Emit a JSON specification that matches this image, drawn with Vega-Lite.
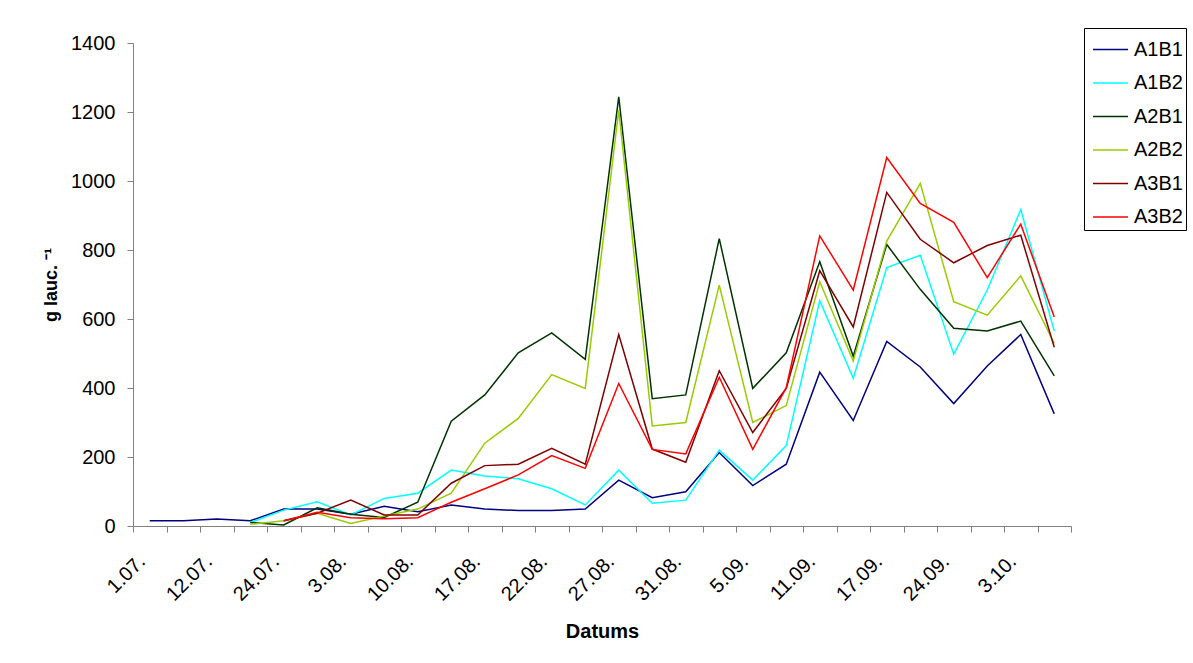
{
  "$schema": "https://vega.github.io/schema/vega-lite/v6.json",
  "width": 938,
  "height": 483,
  "autosize": {"type": "none"},
  "padding": {"left": 133, "top": 43, "right": 122, "bottom": 137},
  "background": "white",
  "config": {
    "view": {"stroke": null},
    "font": "Liberation Sans",
    "axis": {"labelFont": "Liberation Sans", "titleFont": "Liberation Sans", "labelColor": "black", "titleColor": "black", "grid": false},
    "legend": {"labelFont": "Liberation Sans"}
  },
  "data": {
    "values": [
      {"d": "1.07.", "s": "A1B1", "v": 15}, {"d": "6.07.", "s": "A1B1", "v": 15}, {"d": "12.07.", "s": "A1B1", "v": 20}, {"d": "18.07.", "s": "A1B1", "v": 15},
      {"d": "24.07.", "s": "A1B1", "v": 49}, {"d": "29.07.", "s": "A1B1", "v": 49}, {"d": "3.08.", "s": "A1B1", "v": 34}, {"d": "6.08.", "s": "A1B1", "v": 57},
      {"d": "10.08.", "s": "A1B1", "v": 41}, {"d": "14.08.", "s": "A1B1", "v": 61}, {"d": "17.08.", "s": "A1B1", "v": 49}, {"d": "20.08.", "s": "A1B1", "v": 45},
      {"d": "22.08.", "s": "A1B1", "v": 45}, {"d": "24.08.", "s": "A1B1", "v": 49}, {"d": "27.08.", "s": "A1B1", "v": 133}, {"d": "29.08.", "s": "A1B1", "v": 82},
      {"d": "31.08.", "s": "A1B1", "v": 99}, {"d": "3.09.", "s": "A1B1", "v": 213}, {"d": "5.09.", "s": "A1B1", "v": 117}, {"d": "8.09.", "s": "A1B1", "v": 179},
      {"d": "11.09.", "s": "A1B1", "v": 446}, {"d": "14.09.", "s": "A1B1", "v": 306}, {"d": "17.09.", "s": "A1B1", "v": 535}, {"d": "21.09.", "s": "A1B1", "v": 461},
      {"d": "24.09.", "s": "A1B1", "v": 355}, {"d": "28.09.", "s": "A1B1", "v": 464}, {"d": "3.10.", "s": "A1B1", "v": 555}, {"d": "7.10.", "s": "A1B1", "v": 325},

      {"d": "18.07.", "s": "A1B2", "v": 10},
      {"d": "24.07.", "s": "A1B2", "v": 46}, {"d": "29.07.", "s": "A1B2", "v": 70}, {"d": "3.08.", "s": "A1B2", "v": 32}, {"d": "6.08.", "s": "A1B2", "v": 80},
      {"d": "10.08.", "s": "A1B2", "v": 95}, {"d": "14.08.", "s": "A1B2", "v": 162}, {"d": "17.08.", "s": "A1B2", "v": 145}, {"d": "20.08.", "s": "A1B2", "v": 137},
      {"d": "22.08.", "s": "A1B2", "v": 108}, {"d": "24.08.", "s": "A1B2", "v": 61}, {"d": "27.08.", "s": "A1B2", "v": 162}, {"d": "29.08.", "s": "A1B2", "v": 66},
      {"d": "31.08.", "s": "A1B2", "v": 75}, {"d": "3.09.", "s": "A1B2", "v": 220}, {"d": "5.09.", "s": "A1B2", "v": 133}, {"d": "8.09.", "s": "A1B2", "v": 233},
      {"d": "11.09.", "s": "A1B2", "v": 653}, {"d": "14.09.", "s": "A1B2", "v": 428}, {"d": "17.09.", "s": "A1B2", "v": 749}, {"d": "21.09.", "s": "A1B2", "v": 785},
      {"d": "24.09.", "s": "A1B2", "v": 498}, {"d": "28.09.", "s": "A1B2", "v": 684}, {"d": "3.10.", "s": "A1B2", "v": 917}, {"d": "7.10.", "s": "A1B2", "v": 565},

      {"d": "18.07.", "s": "A2B1", "v": 10},
      {"d": "24.07.", "s": "A2B1", "v": 3}, {"d": "29.07.", "s": "A2B1", "v": 53}, {"d": "3.08.", "s": "A2B1", "v": 34}, {"d": "6.08.", "s": "A2B1", "v": 25},
      {"d": "10.08.", "s": "A2B1", "v": 69}, {"d": "14.08.", "s": "A2B1", "v": 304}, {"d": "17.08.", "s": "A2B1", "v": 380}, {"d": "20.08.", "s": "A2B1", "v": 502},
      {"d": "22.08.", "s": "A2B1", "v": 560}, {"d": "24.08.", "s": "A2B1", "v": 483}, {"d": "27.08.", "s": "A2B1", "v": 1244}, {"d": "29.08.", "s": "A2B1", "v": 369},
      {"d": "31.08.", "s": "A2B1", "v": 380}, {"d": "3.09.", "s": "A2B1", "v": 833}, {"d": "5.09.", "s": "A2B1", "v": 399}, {"d": "8.09.", "s": "A2B1", "v": 502},
      {"d": "11.09.", "s": "A2B1", "v": 766}, {"d": "14.09.", "s": "A2B1", "v": 492}, {"d": "17.09.", "s": "A2B1", "v": 816}, {"d": "21.09.", "s": "A2B1", "v": 686},
      {"d": "24.09.", "s": "A2B1", "v": 573}, {"d": "28.09.", "s": "A2B1", "v": 565}, {"d": "3.10.", "s": "A2B1", "v": 594}, {"d": "7.10.", "s": "A2B1", "v": 435},

      {"d": "18.07.", "s": "A2B2", "v": 5},
      {"d": "24.07.", "s": "A2B2", "v": 15}, {"d": "29.07.", "s": "A2B2", "v": 37}, {"d": "3.08.", "s": "A2B2", "v": 7}, {"d": "6.08.", "s": "A2B2", "v": 29},
      {"d": "10.08.", "s": "A2B2", "v": 49}, {"d": "14.08.", "s": "A2B2", "v": 95}, {"d": "17.08.", "s": "A2B2", "v": 240}, {"d": "20.08.", "s": "A2B2", "v": 312},
      {"d": "22.08.", "s": "A2B2", "v": 439}, {"d": "24.08.", "s": "A2B2", "v": 399}, {"d": "27.08.", "s": "A2B2", "v": 1205}, {"d": "29.08.", "s": "A2B2", "v": 290},
      {"d": "31.08.", "s": "A2B2", "v": 300}, {"d": "3.09.", "s": "A2B2", "v": 698}, {"d": "5.09.", "s": "A2B2", "v": 300}, {"d": "8.09.", "s": "A2B2", "v": 349},
      {"d": "11.09.", "s": "A2B2", "v": 708}, {"d": "14.09.", "s": "A2B2", "v": 478}, {"d": "17.09.", "s": "A2B2", "v": 826}, {"d": "21.09.", "s": "A2B2", "v": 993},
      {"d": "24.09.", "s": "A2B2", "v": 650}, {"d": "28.09.", "s": "A2B2", "v": 611}, {"d": "3.10.", "s": "A2B2", "v": 725}, {"d": "7.10.", "s": "A2B2", "v": 529},

      {"d": "24.07.", "s": "A3B1", "v": 15}, {"d": "29.07.", "s": "A3B1", "v": 37}, {"d": "3.08.", "s": "A3B1", "v": 75}, {"d": "6.08.", "s": "A3B1", "v": 32},
      {"d": "10.08.", "s": "A3B1", "v": 32}, {"d": "14.08.", "s": "A3B1", "v": 124}, {"d": "17.08.", "s": "A3B1", "v": 175}, {"d": "20.08.", "s": "A3B1", "v": 179},
      {"d": "22.08.", "s": "A3B1", "v": 225}, {"d": "24.08.", "s": "A3B1", "v": 179}, {"d": "27.08.", "s": "A3B1", "v": 555}, {"d": "29.08.", "s": "A3B1", "v": 223},
      {"d": "31.08.", "s": "A3B1", "v": 185}, {"d": "3.09.", "s": "A3B1", "v": 450}, {"d": "5.09.", "s": "A3B1", "v": 271}, {"d": "8.09.", "s": "A3B1", "v": 399},
      {"d": "11.09.", "s": "A3B1", "v": 740}, {"d": "14.09.", "s": "A3B1", "v": 577}, {"d": "17.09.", "s": "A3B1", "v": 967}, {"d": "21.09.", "s": "A3B1", "v": 831},
      {"d": "24.09.", "s": "A3B1", "v": 763}, {"d": "28.09.", "s": "A3B1", "v": 813}, {"d": "3.10.", "s": "A3B1", "v": 843}, {"d": "7.10.", "s": "A3B1", "v": 518},

      {"d": "24.07.", "s": "A3B2", "v": 15}, {"d": "29.07.", "s": "A3B2", "v": 40}, {"d": "3.08.", "s": "A3B2", "v": 24}, {"d": "6.08.", "s": "A3B2", "v": 21},
      {"d": "10.08.", "s": "A3B2", "v": 24}, {"d": "14.08.", "s": "A3B2", "v": 69}, {"d": "17.08.", "s": "A3B2", "v": 108}, {"d": "20.08.", "s": "A3B2", "v": 148},
      {"d": "22.08.", "s": "A3B2", "v": 204}, {"d": "24.08.", "s": "A3B2", "v": 167}, {"d": "27.08.", "s": "A3B2", "v": 413}, {"d": "29.08.", "s": "A3B2", "v": 222},
      {"d": "31.08.", "s": "A3B2", "v": 209}, {"d": "3.09.", "s": "A3B2", "v": 431}, {"d": "5.09.", "s": "A3B2", "v": 222}, {"d": "8.09.", "s": "A3B2", "v": 401},
      {"d": "11.09.", "s": "A3B2", "v": 841}, {"d": "14.09.", "s": "A3B2", "v": 684}, {"d": "17.09.", "s": "A3B2", "v": 1068}, {"d": "21.09.", "s": "A3B2", "v": 935},
      {"d": "24.09.", "s": "A3B2", "v": 880}, {"d": "28.09.", "s": "A3B2", "v": 720}, {"d": "3.10.", "s": "A3B2", "v": 875}, {"d": "7.10.", "s": "A3B2", "v": 606}
    ]
  },
  "mark": {"type": "line", "strokeWidth": 1.5, "clip": false},
  "encoding": {
    "x": {
      "field": "d",
      "type": "ordinal",
      "bandPosition": 0.5,
      "scale": {
        "type": "band",
        "paddingInner": 0,
        "paddingOuter": 0,
        "domain": ["1.07.", "6.07.", "12.07.", "18.07.", "24.07.", "29.07.", "3.08.", "6.08.", "10.08.", "14.08.", "17.08.", "20.08.", "22.08.", "24.08.", "27.08.", "29.08.", "31.08.", "3.09.", "5.09.", "8.09.", "11.09.", "14.09.", "17.09.", "21.09.", "24.09.", "28.09.", "3.10.", "7.10."]
      },
      "axis": {
        "title": "Datums",
        "titleFontSize": 20,
        "titleFontWeight": "bold",
        "titlePadding": 17,
        "tickBand": "extent",
        "labelExpr": "indexof(['1.07.','12.07.','24.07.','3.08.','10.08.','17.08.','22.08.','27.08.','31.08.','5.09.','11.09.','17.09.','24.09.','3.10.'], datum.value) >= 0 ? datum.value : ''",
        "labelAngle": -45,
        "labelAlign": "right",
        "labelBaseline": "middle",
        "labelFontSize": 20,
        "labelPadding": 26,
        "labelOffset": -8,
        "labelOverlap": false,
        "tickSize": 6,
        "tickColor": "#808080",
        "domainColor": "#808080"
      }
    },
    "y": {
      "field": "v",
      "type": "quantitative",
      "scale": {"domain": [0, 1400], "nice": false},
      "axis": {
        "title": "g lauc. ⁻¹",
        "titleFontSize": 18,
        "titleFontWeight": "bold",
        "titlePadding": 10,
        "values": [0, 200, 400, 600, 800, 1000, 1200, 1400],
        "format": "d",
        "labelFontSize": 20,
        "labelPadding": 12,
        "tickSize": 6,
        "tickColor": "#808080",
        "domainColor": "#808080"
      }
    },
    "color": {
      "field": "s",
      "type": "nominal",
      "scale": {
        "domain": ["A1B1", "A1B2", "A2B1", "A2B2", "A3B1", "A3B2"],
        "range": ["#000080", "#00FFFF", "#003300", "#99CC00", "#800000", "#FF0000"]
      },
      "legend": {
        "title": null,
        "orient": "none",
        "legendX": 951,
        "legendY": -15,
        "symbolType": "stroke",
        "symbolSize": 1225,
        "symbolStrokeWidth": 1.5,
        "symbolOffset": 5,
        "labelFontSize": 20,
        "labelColor": "black",
        "labelOffset": 5,
        "rowPadding": 4.5,
        "padding": 3,
        "strokeColor": "black",
        "fillColor": "white"
      }
    }
  }
}
